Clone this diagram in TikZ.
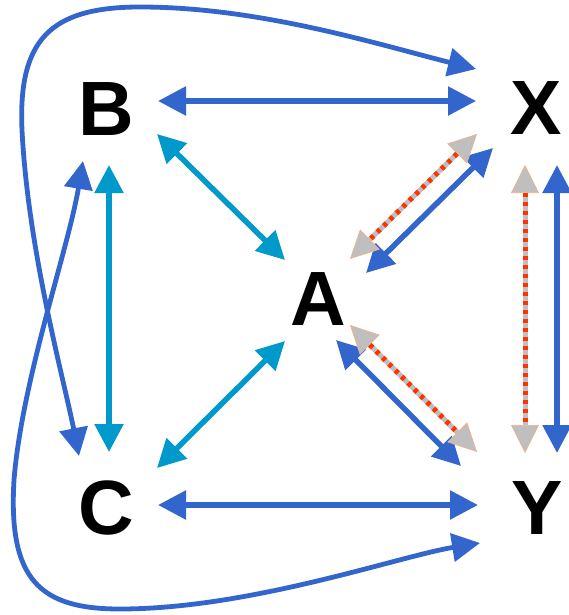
\documentclass[tikz,border=0pt]{standalone}
\usepackage{fontspec}
\setmainfont{Liberation Sans}
\usetikzlibrary{arrows.meta}
\definecolor{cblue}{HTML}{3366CC}
\definecolor{ccyan}{HTML}{0099CC}
\definecolor{cgray}{HTML}{BFBFBF}
\definecolor{cred}{HTML}{FF3300}
\definecolor{csalmon}{HTML}{F4B183}
\begin{document}
\begin{tikzpicture}[x=1pt,y=-1pt,
  lbl/.style={inner sep=0pt, font=\fontsize{77}{77}\selectfont\bfseries},
  blu/.style={draw=cblue, line width=5.5pt, {Triangle[length=28pt,width=28pt]}-{Triangle[length=28pt,width=28pt]}},
  cya/.style={draw=ccyan, line width=5.5pt, {Triangle[length=28pt,width=28pt]}-{Triangle[length=28pt,width=28pt]}},
  crv/.style={draw=cblue, line width=4.8pt, {Triangle[length=28pt,width=28pt]}-{Triangle[length=28pt,width=28pt]}},
  gry/.style={draw=cgray, line width=5pt, {Triangle[length=28pt,width=28pt,fill=cgray,color=csalmon,line width=0.6pt]}-{Triangle[length=28pt,width=28pt,fill=cgray,color=csalmon,line width=0.6pt]}},
  rdash/.style={draw=cred, line width=5pt, dash pattern=on 4pt off 5pt, shorten <=28pt, shorten >=28pt}
]
\useasboundingbox (0,0) rectangle (569,615);
% labels
\node[lbl] (B) at (106.5,109.5) {B};
\node[lbl] (X) at (536.5,108) {X};
\node[lbl] (A) at (318.5,299.5) {A};
\node[lbl] (C) at (106.5,508) {C};
\node[lbl] (Y) at (537,508) {Y};
% arrow end points
\coordinate (bx1) at (158,101);  \coordinate (bx2) at (476,101);
\coordinate (cy1) at (158,505);  \coordinate (cy2) at (478,505);
\coordinate (ba1) at (157,134);  \coordinate (ba2) at (285,260);
\coordinate (ca1) at (157,468);  \coordinate (ca2) at (285,341);
\coordinate (bc1) at (109,165);  \coordinate (bc2) at (109,452);
\coordinate (xa1) at (493,148);  \coordinate (xa2) at (366,273);
\coordinate (xd1) at (477,134);  \coordinate (xd2) at (350,259);
\coordinate (ay1) at (336,340);  \coordinate (ay2) at (461,466);
\coordinate (ad1) at (350,325);  \coordinate (ad2) at (477,452);
\coordinate (xy1) at (557,165);  \coordinate (xy2) at (557,453);
\coordinate (xd3) at (525,165);  \coordinate (xd4) at (525,453);
\coordinate (cc1) at (79,456);   \coordinate (cc2) at (476,69);
\coordinate (by1) at (83,161);   \coordinate (by2) at (480,543);
% curves
\draw[crv] (cc1) .. controls (64,380) and (28,250) .. (22,130)
  .. controls (18,40) and (50,7) .. (140,7)
  .. controls (260,7) and (380,45) .. (cc2);
\draw[crv] (by1) .. controls (68,250) and (22,380) .. (14,480)
  .. controls (8,580) and (40,609) .. (120,609)
  .. controls (250,609) and (400,556) .. (by2);
% straight arrows
\draw[blu] (bx1) -- (bx2);
\draw[blu] (cy1) -- (cy2);
\draw[cya] (ba1) -- (ba2);
\draw[cya] (ca1) -- (ca2);
\draw[cya] (bc1) -- (bc2);
\draw[blu] (xa1) -- (xa2);
\draw[blu] (ay1) -- (ay2);
\draw[blu] (xy1) -- (xy2);
\draw[gry] (xd1) -- (xd2);
\draw[rdash] (xd1) -- (xd2);
\draw[gry] (ad1) -- (ad2);
\draw[rdash] (ad1) -- (ad2);
\draw[gry] (xd3) -- (xd4);
\draw[rdash] (xd3) -- (xd4);
\end{tikzpicture}
\end{document}
